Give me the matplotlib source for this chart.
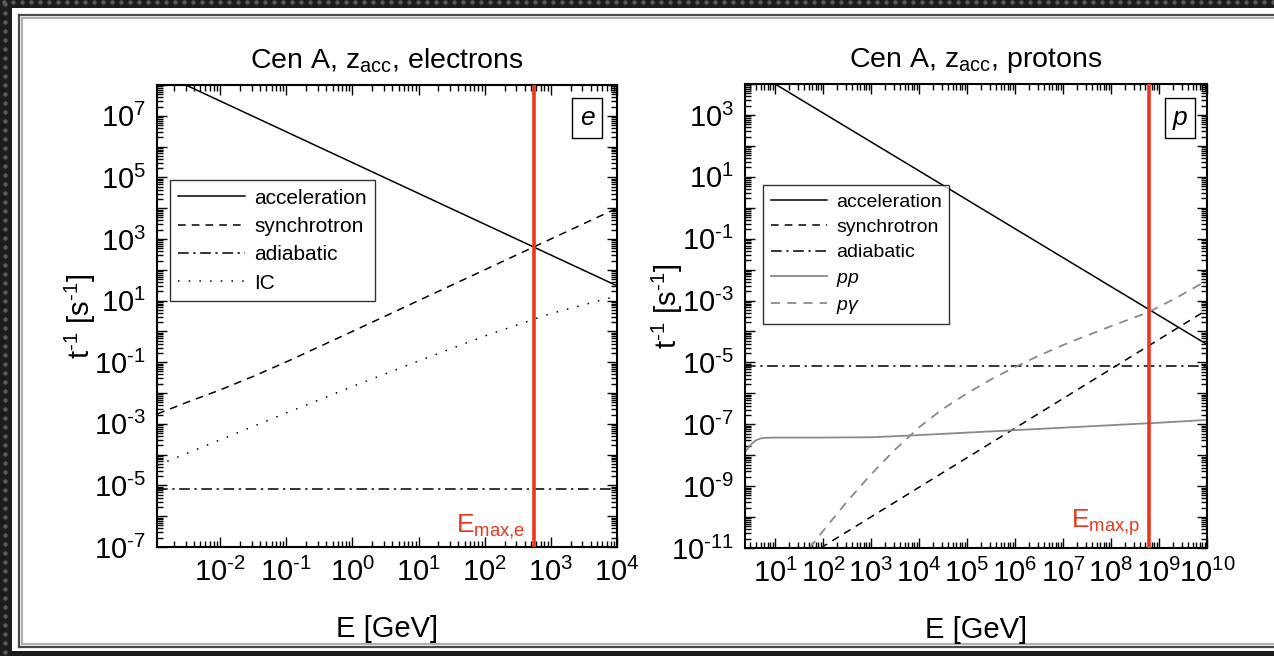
"""
Cooling and acceleration rates for Cen A at z_acc:
electrons (left) and protons (right).
"""

import numpy as np
import matplotlib

matplotlib.use("Agg")
import matplotlib.pyplot as plt
from matplotlib.lines import Line2D
from matplotlib.patches import Rectangle
from matplotlib.ticker import LogLocator, FuncFormatter, NullFormatter

plt.rcParams["font.family"] = ["Liberation Sans", "DejaVu Sans"]
plt.rcParams["mathtext.fontset"] = "custom"
plt.rcParams["mathtext.rm"] = "Liberation Sans"
plt.rcParams["mathtext.it"] = "Liberation Sans:italic"
plt.rcParams["mathtext.sf"] = "Liberation Sans"
plt.rcParams["axes.unicode_minus"] = False

# ── Data (log10 E [GeV], log10 t^-1 [s^-1]) ───────────────

# electrons
e_acc_logE = [-2.95, 4.0]
e_acc_logt = [8.43, 1.48]
e_syn_logE = [-2.95, -2.5, -2.0, -1.5, -1.0, 0.0, 1.0, 2.0, 3.0, 4.0]
e_syn_logt = [-2.68, -2.30, -1.90, -1.46, -0.99, 0.0, 1.0, 2.0, 3.0, 4.0]
e_adi_logt = -5.12
e_ic_logE = [-2.95, -2.0, -1.0, 0.0, 1.0, 2.0, 3.0, 4.0]
e_ic_logt = [-4.35, -3.52, -2.65, -1.79, -0.96, -0.15, 0.58, 1.15]
e_emax_logE = 2.74

# protons
p_acc_logE = [1.0, 10.0]
p_acc_logt = [4.0, -4.42]
p_syn_logE = [1.95, 10.0]
p_syn_logt = [-11.0, -3.3]
p_adi_logt = -5.12
p_pp_logE = [0.375, 0.5, 0.6, 0.7, 0.8, 1.0, 2.0, 3.0, 4.0, 5.0,
             6.0, 7.0, 8.0, 9.0, 10.0]
p_pp_logt = [-7.9, -7.65, -7.52, -7.46, -7.44, -7.43, -7.43, -7.42,
             -7.35, -7.27, -7.19, -7.11, -7.03, -6.95, -6.86]
p_pg_logE = [1.72, 2.0, 2.5, 3.0, 3.5, 4.0, 4.5, 5.0, 5.5, 6.0, 6.5,
             7.0, 7.5, 8.0, 8.79, 9.4, 10.0]
p_pg_logt = [-11.0, -10.45, -9.5, -8.62, -7.82, -7.1, -6.5, -6.0, -5.55,
             -5.15, -4.78, -4.44, -4.13, -3.83, -3.37, -2.88, -2.35]
p_emax_logE = 8.79

# axis ranges and labelled exponents
e_xlim = (10 ** -2.955, 1e4)
e_ylim = (1e-7, 1e8)
e_xlabels = [-2, -1, 0, 1, 2, 3, 4]
e_ylabels = [7, 5, 3, 1, -1, -3, -5, -7]

p_xlim = (10 ** 0.375, 1e10)
p_ylim = (1e-11, 1e4)
p_xlabels = list(range(1, 11))
p_ylabels = [3, 1, -1, -3, -5, -7, -9, -11]

RED = "#e8381d"
GRAY = "#8a8a8a"


def pw(a):
    return 10.0 ** np.asarray(a, dtype=float)


def pow_label(n):
    # hyphen-style minus, as in the printed figure
    if n < 0:
        return r"$10^{\text{-}%d}$" % (-n)
    return r"$10^{%d}$" % n


# ── Axes styling ──────────────────────────────────────────

def style_log_axes(ax, xlim, ylim, xlabels, ylabels, ylab_xy):
    ax.set_xscale("log")
    ax.set_yscale("log")
    ax.set_xlim(*xlim)
    ax.set_ylim(*ylim)

    for axis, shown in ((ax.xaxis, xlabels), (ax.yaxis, ylabels)):
        axis.set_major_locator(LogLocator(base=10, numticks=40))
        axis.set_minor_locator(LogLocator(base=10, subs=np.arange(2, 10), numticks=40))
        axis.set_minor_formatter(NullFormatter())
        axis.set_major_formatter(FuncFormatter(
            lambda v, pos, shown=shown: (
                pow_label(int(round(np.log10(v))))
                if round(np.log10(v)) in shown else "")))

    ax.tick_params(which="both", direction="in", top=True, right=True,
                   width=1.0, labelsize=21)
    ax.tick_params(which="major", length=7, pad=8)
    ax.tick_params(which="minor", length=4)
    for sp in ax.spines.values():
        sp.set_linewidth(1.5)

    ax.set_xlabel("E [GeV]", fontsize=21, labelpad=20)
    ax.set_ylabel(r"t$^{\text{-}1}$ [s$^{\text{-}1}$]", fontsize=21)
    ax.yaxis.set_label_coords(*ylab_xy)


def tag_box(ax, letter, x, y):
    ax.text(x, y, letter, transform=ax.transAxes, fontsize=19,
            style="italic", ha="center", va="center",
            bbox=dict(boxstyle="square,pad=0.3", fc="white", ec="black", lw=1))


def add_legend(ax, anchor, size, hlen, spacing):
    leg = ax.legend(loc="upper left", bbox_to_anchor=anchor, fontsize=size,
                    frameon=True, fancybox=False, handlelength=hlen,
                    borderpad=0.4, labelspacing=spacing, handletextpad=0.45,
                    borderaxespad=0)
    leg.get_frame().set_edgecolor("black")
    leg.get_frame().set_linewidth(1.0)
    return leg


def draw_frame(fig):
    # dark slide border with a white card on top
    fig.patch.set_facecolor("#1c1c1c")
    W, H = 1274.0, 656.0
    fig.add_artist(Rectangle((12 / W, 5 / H), 1 - 12 / W, 1 - 13 / H,
                             transform=fig.transFigure, fc="white", ec="none",
                             zorder=-10))
    for off, col in ((0, "#4a4a4a"), (3, "#b0b0b0")):
        x0 = (19 + off) / W
        ytop = 1 - (15 + off) / H
        ybot = (9 + off) / H
        fig.add_artist(Line2D([x0, x0], [ybot, ytop], transform=fig.transFigure,
                              color=col, lw=1.6, zorder=-9))
        fig.add_artist(Line2D([x0, 1], [ytop, ytop], transform=fig.transFigure,
                              color=col, lw=1.6, zorder=-9))
        fig.add_artist(Line2D([x0, 1], [ybot, ybot], transform=fig.transFigure,
                              color=col, lw=1.6, zorder=-9))
    # speckled texture along the dark strips
    xs = np.arange(4, W, 9) / W
    fig.add_artist(Line2D(xs, np.full_like(xs, 1 - 2 / H), transform=fig.transFigure,
                          ls="none", marker="o", ms=2.2, color="#5a5a5a", zorder=-8))
    ys = np.arange(4, H, 9) / H
    fig.add_artist(Line2D(np.full_like(ys, 5 / W), ys, transform=fig.transFigure,
                          ls="none", marker="o", ms=2.2, color="#5a5a5a", zorder=-8))


# ── Figure ────────────────────────────────────────────────

fig = plt.figure(figsize=(12.74, 6.56), dpi=100)
draw_frame(fig)

ax_e = fig.add_axes([157 / 1274, 1 - 547 / 656, 460 / 1274, 462 / 656])
ax_p = fig.add_axes([745 / 1274, 1 - 548 / 656, 462 / 1274, 464 / 656])

# electrons
ax_e.plot(pw(e_acc_logE), pw(e_acc_logt), color="black", lw=1.1, label="acceleration")
ax_e.plot(pw(e_syn_logE), pw(e_syn_logt), color="black", lw=1.1,
          dashes=(5, 4), label="synchrotron")
ax_e.plot(e_xlim, [10 ** e_adi_logt] * 2, color="black", lw=1.1,
          dashes=(7, 3, 1.5, 3), label="adiabatic")
ax_e.plot(pw(e_ic_logE), pw(e_ic_logt), color="black", lw=1.1,
          dashes=(1, 6), label="IC")
ax_e.axvline(10 ** e_emax_logE, color=RED, lw=2.6, zorder=5)
ax_e.text(0.80, 0.043, r"E$_\mathrm{max{,}e}$", transform=ax_e.transAxes,
          color=RED, fontsize=19, ha="right", va="center")
style_log_axes(ax_e, e_xlim, e_ylim, e_xlabels, e_ylabels, (-0.128, 0.5))
ax_e.set_title(r"Cen A, z$_\mathrm{acc}$, electrons", fontsize=20.5, pad=12)
tag_box(ax_e, "e", 0.935, 0.929)
add_legend(ax_e, (0.028, 0.794), 15, 3.2, 0.45)

# protons
ax_p.plot(pw(p_acc_logE), pw(p_acc_logt), color="black", lw=1.1, label="acceleration")
ax_p.plot(pw(p_syn_logE), pw(p_syn_logt), color="black", lw=1.1,
          dashes=(5, 4), label="synchrotron")
ax_p.plot(p_xlim, [10 ** p_adi_logt] * 2, color="black", lw=1.1,
          dashes=(7, 3, 1.5, 3), label="adiabatic")
ax_p.plot(pw(p_pp_logE), pw(p_pp_logt), color=GRAY, lw=1.3, label=r"$pp$")
ax_p.plot(pw(p_pg_logE), pw(p_pg_logt), color=GRAY, lw=1.3,
          dashes=(5, 4), label=r"$p\gamma$")
ax_p.axvline(10 ** p_emax_logE, color=RED, lw=2.6, zorder=5)
ax_p.text(0.855, 0.054, r"E$_\mathrm{max{,}p}$", transform=ax_p.transAxes,
          color=RED, fontsize=19, ha="right", va="center")
style_log_axes(ax_p, p_xlim, p_ylim, p_xlabels, p_ylabels, (-0.13, 0.52))
ax_p.set_title(r"Cen A, z$_\mathrm{acc}$, protons", fontsize=20.5, pad=12)
tag_box(ax_p, "p", 0.942, 0.927)
add_legend(ax_p, (0.039, 0.782), 14, 2.9, 0.4)

fig.savefig("out.png", dpi=100, facecolor=fig.get_facecolor())
plt.close(fig)
